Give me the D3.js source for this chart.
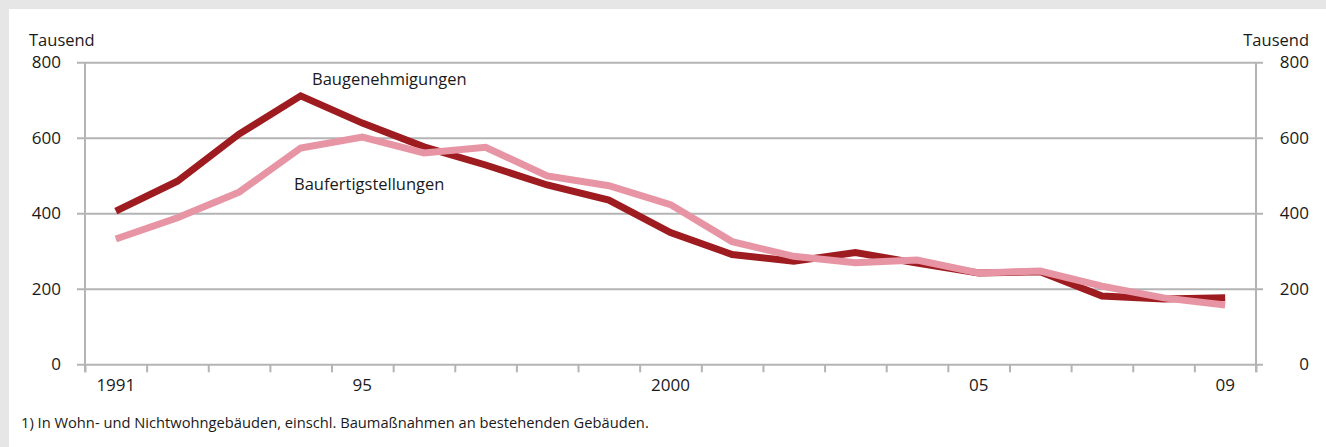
<html lang="de">
<head>
  <meta charset="UTF-8" />
  <title>Baugenehmigungen und Baufertigstellungen</title>
  <script src="https://d3js.org/d3.v7.min.js"></script>
  <style>
    body { margin: 0; background: #e6e6e6; }
    text { font-family: "Open Sans", "Noto Sans", sans-serif; fill: #1a1a1a; }
    .axis .domain { display: none; }
    .axis line, .gridlines line { stroke: #b4b4b4; stroke-width: 2px; }
    .gridlines .domain { display: none; }
  </style>
</head>
<body>
  <svg id="chart" width="1326" height="447"></svg>
  <script>
    // data (thousands)
    const years = d3.range(1991, 2010);
    const yearLabels = { 1991: "1991", 1995: "95", 2000: "2000", 2005: "05", 2009: "09" };
    const yTicks = [0, 200, 400, 600, 800];
    const genehmigungen = [406, 485, 610, 711, 639, 576, 528, 475, 435, 349, 291, 273, 296, 268, 242, 245, 181, 173, 176];
    const fertigstellungen = [332, 388, 456, 573, 602, 560, 575, 499, 473, 423, 325, 286, 269, 276, 242, 247, 207, 176, 157];

    const svg = d3.select("svg#chart");
    const width = +svg.attr("width");
    const height = +svg.attr("height");
    const margin = { top: 62.3, right: 70, bottom: 82.7, left: 85 };
    const plotRight = width - margin.right; // 1256
    const plotBottom = height - margin.bottom; // 364.3

    // grey frame + white panel
    svg.append("rect").attr("width", width).attr("height", height).attr("fill", "#e6e6e6");
    svg.append("rect").attr("x", 9).attr("y", 9).attr("width", width - 9).attr("height", height - 9).attr("fill", "#fff");

    const x = d3.scaleBand().domain(years).range([margin.left, plotRight]).paddingInner(0).paddingOuter(0);
    const xEdges = d3.scaleLinear().domain([1991, 2010]).range([margin.left, plotRight]);
    const y = d3.scaleLinear().domain([0, 800]).range([plotBottom, margin.top]);

    // horizontal gridlines (incl. both tick stubs)
    svg.append("g")
      .attr("class", "gridlines")
      .attr("transform", `translate(${plotRight + 7},0)`)
      .call(d3.axisLeft(y).tickValues(yTicks).tickSize(plotRight + 7 - (margin.left - 8)).tickFormat(""));

    // vertical axis lines
    svg.append("line").attr("x1", margin.left).attr("x2", margin.left)
      .attr("y1", margin.top).attr("y2", plotBottom + 8)
      .attr("stroke", "#b4b4b4").attr("stroke-width", 2);
    svg.append("line").attr("x1", plotRight).attr("x2", plotRight)
      .attr("y1", margin.top).attr("y2", plotBottom + 8)
      .attr("stroke", "#b4b4b4").attr("stroke-width", 2);

    // left labels
    svg.append("g")
      .attr("class", "axis")
      .attr("transform", `translate(${margin.left},0)`)
      .call(d3.axisLeft(y).tickValues(yTicks).tickSize(0).tickPadding(24))
      .selectAll("text")
      .attr("font-size", 17);

    // right labels, right aligned
    svg.append("g")
      .attr("class", "axis")
      .attr("transform", `translate(${plotRight},0)`)
      .call(d3.axisRight(y).tickValues(yTicks).tickSize(0))
      .selectAll("text")
      .attr("font-size", 17)
      .attr("text-anchor", "end")
      .attr("x", 53);

    svg.append("text").attr("x", 29).attr("y", 46).attr("font-size", 16.5).text("Tausend");
    svg.append("text").attr("x", 1309).attr("y", 46).attr("font-size", 16.5).attr("text-anchor", "end").text("Tausend");

    // bottom ticks at year boundaries
    svg.append("g")
      .attr("class", "axis")
      .attr("transform", `translate(0,${plotBottom})`)
      .call(d3.axisBottom(xEdges).tickValues(d3.range(1991, 2011)).tickSize(8).tickFormat(""));

    // bottom labels centred in each year band
    svg.append("g")
      .attr("class", "axis")
      .attr("transform", `translate(0,${plotBottom})`)
      .call(d3.axisBottom(x).tickSize(0).tickPadding(15).tickFormat(d => yearLabels[d] || ""))
      .selectAll("text")
      .attr("font-size", 17);

    const line = d3.line()
      .x((d, i) => x(years[i]) + x.bandwidth() / 2)
      .y(d => y(d));

    svg.append("path")
      .datum(genehmigungen)
      .attr("d", line)
      .attr("fill", "none")
      .attr("stroke", "#9e1b20")
      .attr("stroke-width", 7)
      .attr("stroke-linejoin", "miter");

    svg.append("path")
      .datum(fertigstellungen)
      .attr("d", line)
      .attr("fill", "none")
      .attr("stroke", "#e795a5")
      .attr("stroke-width", 7)
      .attr("stroke-linejoin", "miter");

    // series labels
    svg.append("text").attr("x", 312).attr("y", 85).attr("font-size", 16.5).text("Baugenehmigungen");
    svg.append("text").attr("x", 294).attr("y", 190).attr("font-size", 16.5).text("Baufertigstellungen");

    // footnote
    svg.append("text").attr("x", 21).attr("y", 428).attr("font-size", 14.7)
      .text("1) In Wohn- und Nichtwohngebäuden, einschl. Baumaßnahmen an bestehenden Gebäuden.");
  </script>
</body>
</html>
